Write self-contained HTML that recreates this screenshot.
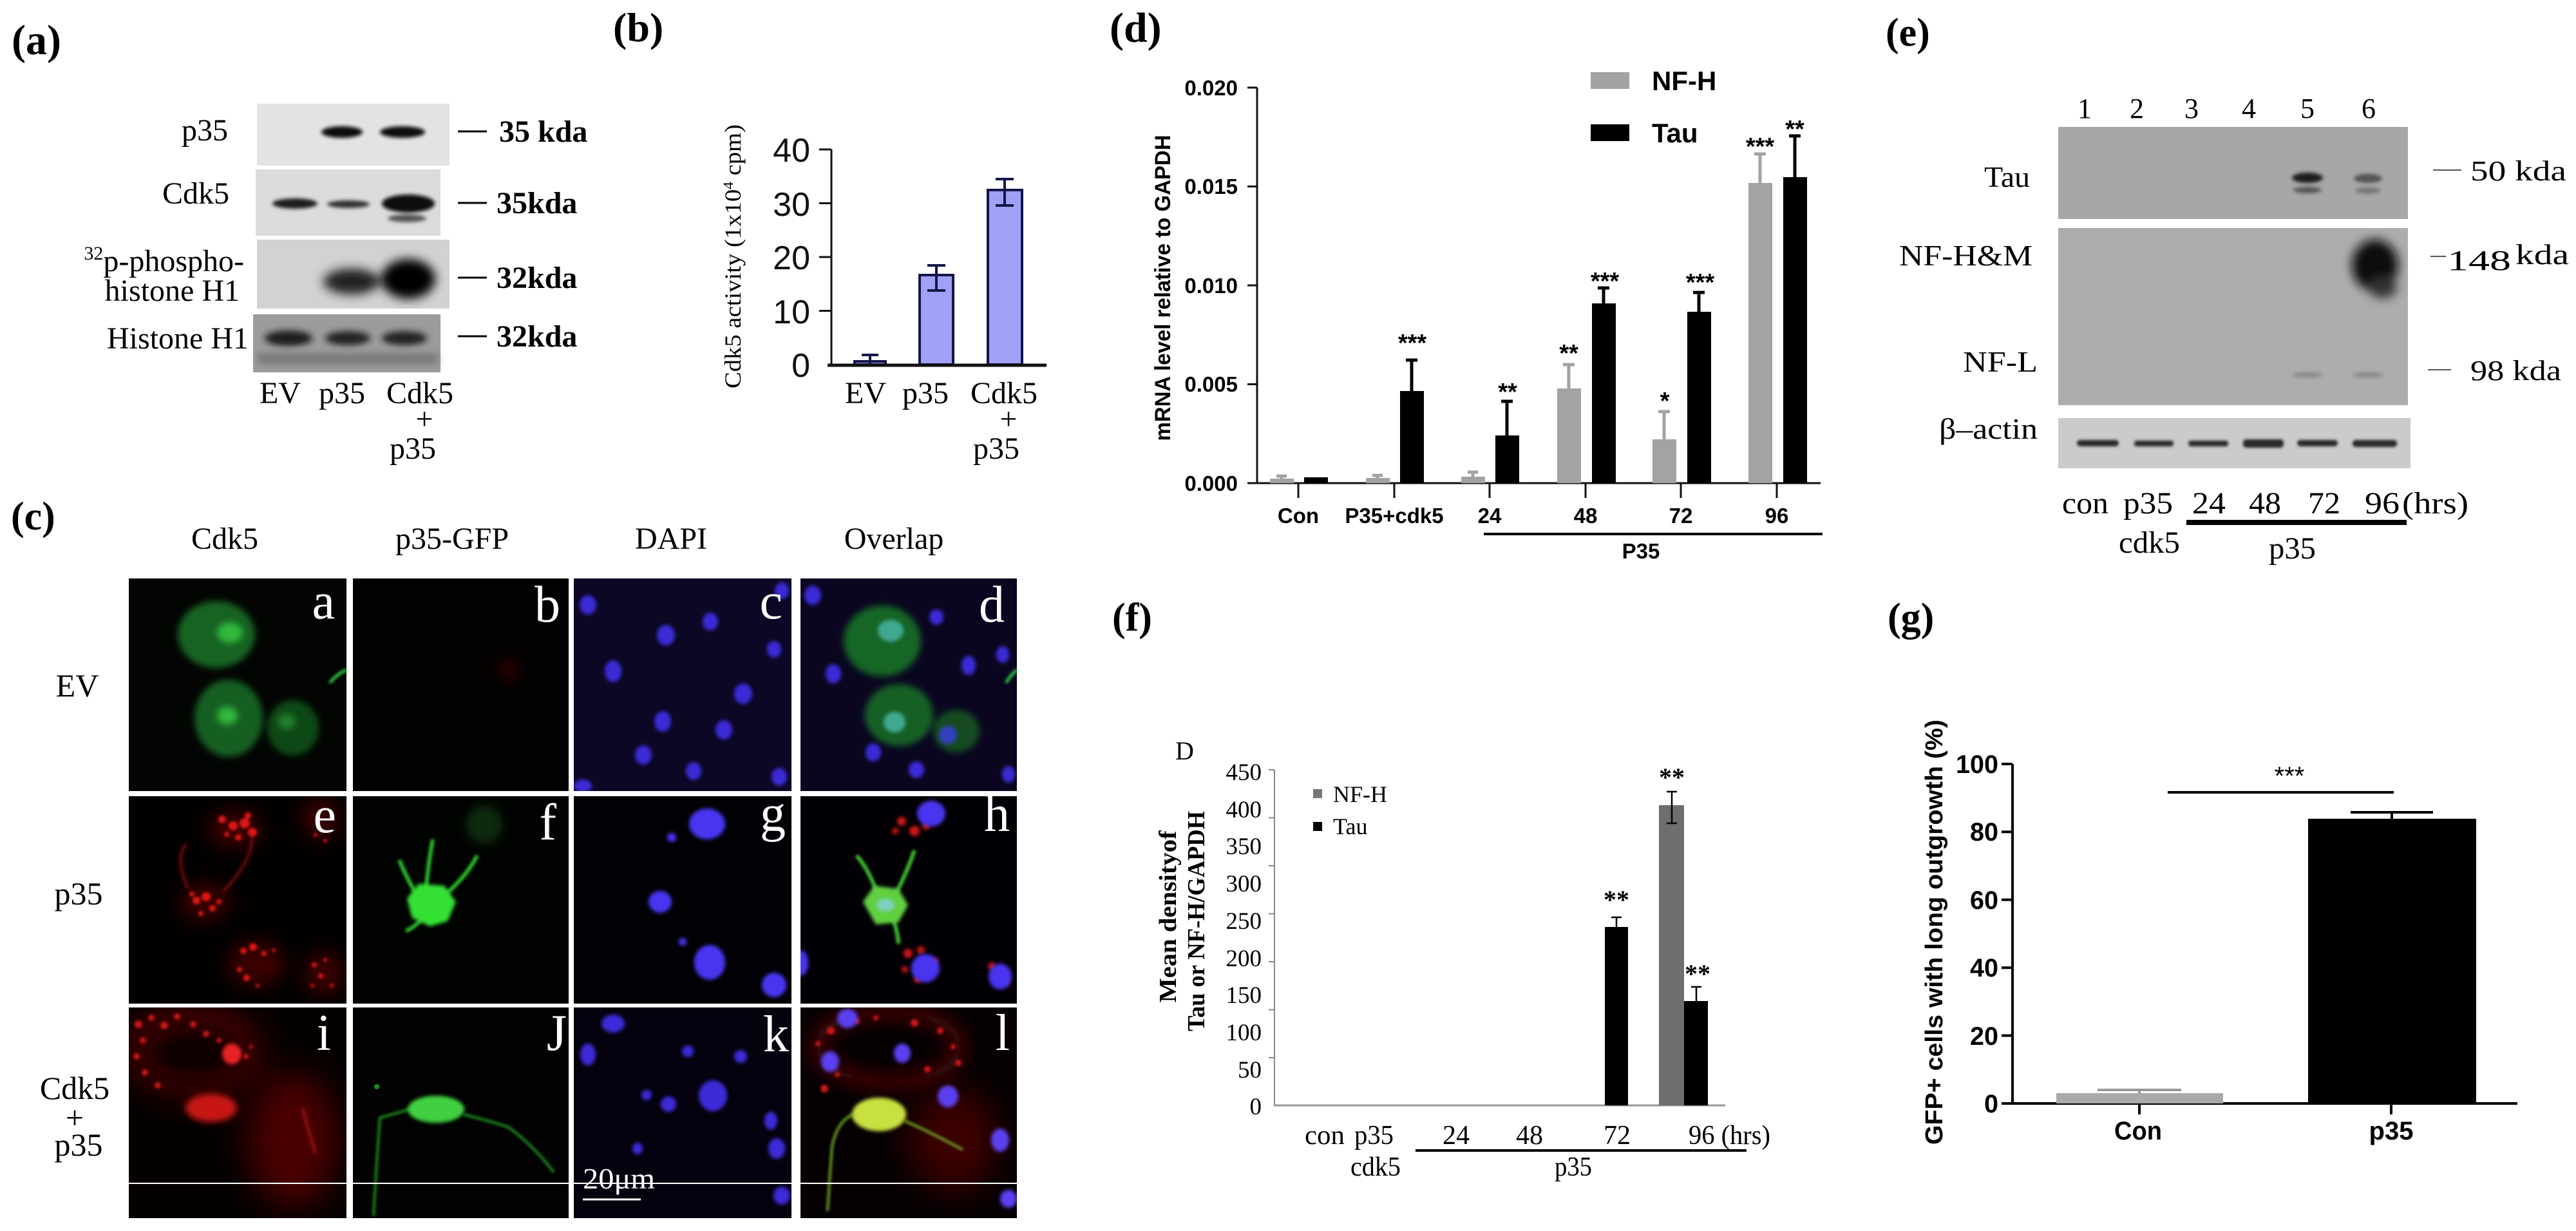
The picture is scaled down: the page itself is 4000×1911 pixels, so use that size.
<!DOCTYPE html>
<html><head><meta charset="utf-8">
<style>
html,body{margin:0;padding:0;background:#fff;}
svg{display:block;}
</style></head><body>
<svg xmlns="http://www.w3.org/2000/svg" width="4000" height="1911" viewBox="0 0 4000 1911">
<defs>
<filter id="b2" x="-50%" y="-50%" width="200%" height="200%"><feGaussianBlur stdDeviation="2"/></filter>
<filter id="b3" x="-50%" y="-50%" width="200%" height="200%"><feGaussianBlur stdDeviation="3"/></filter>
<filter id="b5" x="-50%" y="-50%" width="200%" height="200%"><feGaussianBlur stdDeviation="5"/></filter>
<filter id="b8" x="-50%" y="-50%" width="200%" height="200%"><feGaussianBlur stdDeviation="8"/></filter>
<filter id="b14" x="-50%" y="-50%" width="200%" height="200%"><feGaussianBlur stdDeviation="14"/></filter>
<filter id="b25" x="-50%" y="-50%" width="200%" height="200%"><feGaussianBlur stdDeviation="25"/></filter>
</defs>
<rect width="4000" height="1911" fill="#fff"/>

<!-- ================= PANEL (a) ================= -->
<g font-family="'Liberation Serif', serif">
<text x="18" y="84" font-size="66" font-weight="bold">(a)</text>
<rect x="399" y="161" width="299" height="96" fill="#e3e3e3"/>
<g filter="url(#b3)"><ellipse cx="531" cy="205" rx="32" ry="9" fill="#111"/><ellipse cx="625" cy="205" rx="35" ry="9" fill="#111"/></g>
<rect x="397" y="263" width="287" height="103" fill="#dcdcdc"/>
<g filter="url(#b3)"><ellipse cx="458" cy="316" rx="35" ry="8" fill="#1a1a1a"/><ellipse cx="541" cy="317" rx="33" ry="6" fill="#333"/><ellipse cx="634" cy="316" rx="41" ry="14" fill="#0a0a0a"/><ellipse cx="632" cy="339" rx="30" ry="6" fill="#555"/></g>
<rect x="399" y="372" width="299" height="107" fill="#d2d2d2"/>
<g filter="url(#b8)"><ellipse cx="546" cy="437" rx="44" ry="20" fill="#222"/><ellipse cx="634" cy="433" rx="42" ry="31" fill="#050505"/></g>
<rect x="393" y="488" width="291" height="90" fill="#9c9c9c"/>
<g filter="url(#b5)"><rect x="400" y="548" width="280" height="18" fill="#7c7c7c"/><ellipse cx="448" cy="525" rx="37" ry="12" fill="#1a1a1a"/><ellipse cx="540" cy="525" rx="35" ry="11" fill="#222"/><ellipse cx="628" cy="525" rx="35" ry="11" fill="#222"/></g>

<g font-size="48" text-anchor="end">
<text x="354" y="218">p35</text>
<text x="356" y="316">Cdk5</text>
<text x="379" y="421"><tspan font-size="30" dy="-18">32</tspan><tspan dy="18">p-phospho-</tspan></text>
<text x="372" y="467">histone H1</text>
<text x="386" y="541">Histone H1</text>
</g>
<g stroke="#000" stroke-width="3">
<line x1="711" y1="204" x2="756" y2="204"/><line x1="711" y1="315" x2="756" y2="315"/>
<line x1="711" y1="431" x2="756" y2="431"/><line x1="711" y1="522" x2="756" y2="522"/>
</g>
<g font-size="48" font-weight="bold">
<text x="775" y="220">35 kda</text>
<text x="771" y="331">35kda</text>
<text x="771" y="447">32kda</text>
<text x="771" y="538">32kda</text>
</g>
<g font-size="48" text-anchor="middle">
<text x="435" y="626">EV</text>
<text x="531" y="626">p35</text>
<text x="652" y="626">Cdk5</text>
<text x="659" y="666">+</text>
<text x="641" y="712">p35</text>
</g>
</g>

<!-- ================= PANEL (b) ================= -->
<g font-family="'Liberation Serif', serif">
<text x="952" y="64" font-size="64" font-weight="bold">(b)</text>
<text transform="translate(1150,398) rotate(-90)" font-size="36" text-anchor="middle" textLength="410" lengthAdjust="spacingAndGlyphs">Cdk5 activity (1x10<tspan font-size="22" dy="-12">4</tspan><tspan dy="12"> cpm)</tspan></text>
<g font-size="48" text-anchor="middle">
<text x="1344" y="626">EV</text>
<text x="1437" y="626">p35</text>
<text x="1559" y="626">Cdk5</text>
<text x="1566" y="666">+</text>
<text x="1547" y="712">p35</text>
</g>
</g>
<g font-family="'Liberation Sans', sans-serif" font-size="52" text-anchor="end" fill="#111">
<text x="1258" y="251">40</text><text x="1258" y="335">30</text><text x="1258" y="418">20</text><text x="1258" y="502">10</text><text x="1258" y="585">0</text>
</g>
<g stroke="#111" stroke-width="3">
<line x1="1291" y1="232" x2="1291" y2="566"/>
<line x1="1272" y1="232" x2="1291" y2="232"/><line x1="1272" y1="315.5" x2="1291" y2="315.5"/>
<line x1="1272" y1="399" x2="1291" y2="399"/><line x1="1272" y1="482.5" x2="1291" y2="482.5"/>
</g>
<g fill="#a0a0f5" stroke="#15154a" stroke-width="4">
<rect x="1327" y="561" width="48" height="5"/>
<rect x="1428" y="427" width="52" height="139"/>
<rect x="1534" y="295" width="53" height="271"/>
</g>
<line x1="1285" y1="567" x2="1625" y2="567" stroke="#111" stroke-width="5"/>
<g stroke="#15154a" stroke-width="4">
<line x1="1351" y1="551" x2="1351" y2="565"/><line x1="1338" y1="551" x2="1364" y2="551"/>
<line x1="1454" y1="412" x2="1454" y2="451"/><line x1="1440" y1="412" x2="1468" y2="412"/><line x1="1440" y1="451" x2="1468" y2="451"/>
<line x1="1560" y1="278" x2="1560" y2="319"/><line x1="1546" y1="278" x2="1574" y2="278"/><line x1="1546" y1="319" x2="1574" y2="319"/>
</g>

<!-- ================= PANEL (d) ================= -->
<text x="1723" y="65" font-family="'Liberation Serif', serif" font-size="66" font-weight="bold">(d)</text>
<g font-family="'Liberation Sans', sans-serif" font-weight="bold">
<text transform="translate(1817,447) rotate(-90)" font-size="34" text-anchor="middle" textLength="475" lengthAdjust="spacingAndGlyphs">mRNA level relative to GAPDH</text>
<g font-size="33" text-anchor="end">
<text x="1922" y="148">0.020</text><text x="1922" y="301">0.015</text><text x="1922" y="455">0.010</text><text x="1922" y="608">0.005</text><text x="1922" y="762">0.000</text>
</g>
<g font-size="33" text-anchor="middle">
<text x="2016" y="812">Con</text><text x="2165" y="812">P35+cdk5</text><text x="2313" y="812">24</text>
<text x="2462" y="812">48</text><text x="2610" y="812">72</text><text x="2759" y="812">96</text>
<text x="2548" y="867">P35</text>
</g>
<rect x="2470" y="112" width="60" height="26" fill="#a3a3a3"/>
<rect x="2470" y="193" width="60" height="26" fill="#000"/>
<text x="2565" y="140" font-size="42">NF-H</text>
<text x="2565" y="221" font-size="42">Tau</text>
<g font-size="38" text-anchor="middle">
<text x="2193" y="545">***</text>
<text x="2341" y="621">**</text>
<text x="2436" y="561">**</text>
<text x="2492" y="449">***</text>
<text x="2585" y="635">*</text>
<text x="2640" y="451">***</text>
<text x="2733" y="240">***</text>
<text x="2787" y="213">**</text>
</g>
</g>
<g stroke="#111" stroke-width="3">
<line x1="1952" y1="136" x2="1952" y2="751"/>
<line x1="1937" y1="136" x2="1952" y2="136"/><line x1="1937" y1="289.5" x2="1952" y2="289.5"/>
<line x1="1937" y1="443" x2="1952" y2="443"/><line x1="1937" y1="596.5" x2="1952" y2="596.5"/><line x1="1937" y1="750" x2="1952" y2="750"/>
<line x1="1952" y1="750" x2="2827" y2="750"/>
<line x1="2016" y1="750" x2="2016" y2="773"/><line x1="2165" y1="750" x2="2165" y2="773"/><line x1="2313" y1="750" x2="2313" y2="773"/>
<line x1="2462" y1="750" x2="2462" y2="773"/><line x1="2610" y1="750" x2="2610" y2="773"/><line x1="2759" y1="750" x2="2759" y2="773"/>
</g>
<line x1="2304" y1="829" x2="2830" y2="829" stroke="#000" stroke-width="4"/>
<g fill="#a3a3a3">
<rect x="1972" y="743" width="37" height="7"/>
<rect x="2121" y="742" width="37" height="8"/>
<rect x="2269" y="740" width="37" height="10"/>
<rect x="2418" y="603" width="37" height="147"/>
<rect x="2566" y="682" width="37" height="68"/>
<rect x="2715" y="284" width="37" height="466"/>
</g>
<g stroke="#a3a3a3" stroke-width="5">
<line x1="1990" y1="739" x2="1990" y2="743"/><line x1="1982" y1="739" x2="1998" y2="739"/>
<line x1="2139" y1="738" x2="2139" y2="742"/><line x1="2131" y1="738" x2="2147" y2="738"/>
<line x1="2287" y1="733" x2="2287" y2="740"/><line x1="2279" y1="733" x2="2295" y2="733"/>
<line x1="2436" y1="566" x2="2436" y2="603"/><line x1="2427" y1="566" x2="2445" y2="566"/>
<line x1="2584" y1="639" x2="2584" y2="682"/><line x1="2575" y1="639" x2="2593" y2="639"/>
<line x1="2733" y1="239" x2="2733" y2="284"/><line x1="2724" y1="239" x2="2742" y2="239"/>
</g>
<g fill="#000">
<rect x="2025" y="741" width="37" height="9"/>
<rect x="2174" y="607" width="37" height="143"/>
<rect x="2322" y="676" width="37" height="74"/>
<rect x="2472" y="471" width="37" height="279"/>
<rect x="2620" y="484" width="37" height="266"/>
<rect x="2769" y="275" width="37" height="475"/>
</g>
<g stroke="#000" stroke-width="5">
<line x1="2192" y1="559" x2="2192" y2="607"/><line x1="2183" y1="559" x2="2201" y2="559"/>
<line x1="2340" y1="623" x2="2340" y2="676"/><line x1="2331" y1="623" x2="2349" y2="623"/>
<line x1="2490" y1="447" x2="2490" y2="471"/><line x1="2481" y1="447" x2="2499" y2="447"/>
<line x1="2638" y1="454" x2="2638" y2="484"/><line x1="2629" y1="454" x2="2647" y2="454"/>
<line x1="2787" y1="211" x2="2787" y2="275"/><line x1="2778" y1="211" x2="2796" y2="211"/>
</g>

<!-- ================= PANEL (e) ================= -->
<g font-family="'Liberation Serif', serif">
<text x="2928" y="71" font-size="62" font-weight="bold">(e)</text>
<g font-size="44" text-anchor="middle">
<text x="3237" y="183">1</text><text x="3318" y="183">2</text><text x="3403" y="183">3</text>
<text x="3492" y="183">4</text><text x="3583" y="183">5</text><text x="3678" y="183">6</text>
</g>
<rect x="3196" y="197" width="543" height="143" fill="#a7a7a7"/>
<g filter="url(#b3)">
<ellipse cx="3583" cy="276" rx="24" ry="8" fill="#1a1a1a"/><ellipse cx="3583" cy="295" rx="22" ry="5" fill="#555"/>
<ellipse cx="3677" cy="277" rx="22" ry="7" fill="#555"/><ellipse cx="3677" cy="296" rx="20" ry="5" fill="#777"/>
</g>
<rect x="3196" y="354" width="543" height="275" fill="#adadad"/>
<g filter="url(#b8)">
<ellipse cx="3688" cy="412" rx="36" ry="40" fill="#0d0d0d"/>
<ellipse cx="3700" cy="447" rx="22" ry="16" fill="#333"/>
</g>
<g filter="url(#b3)"><ellipse cx="3583" cy="582" rx="24" ry="4" fill="#888"/><ellipse cx="3677" cy="582" rx="24" ry="4" fill="#888"/></g>
<rect x="3196" y="649" width="547" height="78" fill="#cbcbcb"/>
<g filter="url(#b2)" fill="#2a2a2a">
<rect x="3225" y="683" width="65" height="10" rx="5"/><rect x="3314" y="684" width="61" height="9" rx="4"/>
<rect x="3398" y="684" width="62" height="9" rx="4"/><rect x="3483" y="682" width="63" height="13" rx="5"/>
<rect x="3567" y="683" width="63" height="10" rx="5"/><rect x="3653" y="683" width="69" height="11" rx="5"/>
</g>
<g font-size="46" text-anchor="end">
<text x="3152" y="290" textLength="71" lengthAdjust="spacingAndGlyphs">Tau</text>
<text x="3156" y="412" textLength="207" lengthAdjust="spacingAndGlyphs">NF-H&amp;M</text>
<text x="3164" y="577" textLength="116" lengthAdjust="spacingAndGlyphs">NF-L</text>
<text x="3164" y="681" textLength="153" lengthAdjust="spacingAndGlyphs">β–actin</text>
</g>
<g stroke="#555" stroke-width="2">
<line x1="3778" y1="264" x2="3822" y2="264"/><line x1="3774" y1="398" x2="3798" y2="398"/><line x1="3770" y1="574" x2="3806" y2="574"/>
</g>
<g font-size="44">
<text x="3836" y="280" textLength="149" lengthAdjust="spacingAndGlyphs">50 kda</text>
<text x="3800" y="419" textLength="99" lengthAdjust="spacingAndGlyphs">148</text>
<text x="3906" y="410" textLength="83" lengthAdjust="spacingAndGlyphs">kda</text>
<text x="3836" y="590" textLength="141" lengthAdjust="spacingAndGlyphs">98 kda</text>
</g>
<g font-size="48">
<text x="3202" y="797" textLength="72" lengthAdjust="spacingAndGlyphs">con</text>
<text x="3297" y="797" textLength="77" lengthAdjust="spacingAndGlyphs">p35</text>
<text x="3404" y="797" textLength="52" lengthAdjust="spacingAndGlyphs">24</text>
<text x="3492" y="797" textLength="50" lengthAdjust="spacingAndGlyphs">48</text>
<text x="3584" y="797" textLength="50" lengthAdjust="spacingAndGlyphs">72</text>
<text x="3672" y="797" textLength="54" lengthAdjust="spacingAndGlyphs">96</text>
<text x="3730" y="797" textLength="103" lengthAdjust="spacingAndGlyphs">(hrs)</text>
<text x="3290" y="858" textLength="95" lengthAdjust="spacingAndGlyphs">cdk5</text>
<text x="3523" y="867" textLength="73" lengthAdjust="spacingAndGlyphs">p35</text>
</g>
<rect x="3395" y="807" width="342" height="8" fill="#000"/>
</g>

<!-- ================= PANEL (c) ================= -->
<g font-family="'Liberation Serif', serif">
<text x="17" y="822" font-size="62" font-weight="bold">(c)</text>
<g font-size="48" text-anchor="middle">
<text x="349" y="852">Cdk5</text><text x="702" y="852">p35-GFP</text><text x="1042" y="852">DAPI</text><text x="1388" y="852">Overlap</text>
</g>
<g font-size="50" text-anchor="middle">
<text x="120" y="1081">EV</text>
<text x="122" y="1404">p35</text>
<text x="116" y="1706">Cdk5</text>
<text x="116" y="1752">+</text>
<text x="122" y="1794">p35</text>
</g>
</g>

<!-- row 1 -->
<svg x="200" y="898" width="338" height="330" viewBox="200 898 338 330">
<rect x="200" y="898" width="338" height="330" fill="#030503"/>
<g filter="url(#b5)">
<ellipse cx="336" cy="985" rx="60" ry="52" fill="#156322"/>
<ellipse cx="355" cy="1115" rx="53" ry="60" fill="#145e21"/>
<ellipse cx="455" cy="1130" rx="40" ry="43" fill="#0f4a19"/>
</g>
<g filter="url(#b5)">
<ellipse cx="357" cy="982" rx="20" ry="16" fill="#30b83c"/>
<ellipse cx="353" cy="1111" rx="16" ry="14" fill="#30b83c"/>
<ellipse cx="445" cy="1120" rx="13" ry="12" fill="#22802f"/>
</g>
<path d="M512 1060 Q525 1045 538 1040" stroke="#2dbb3c" stroke-width="5" fill="none" filter="url(#b2)"/>
</svg>
<svg x="548" y="898" width="335" height="330" viewBox="548 898 335 330">
<rect x="548" y="898" width="335" height="330" fill="#040101"/>
<ellipse cx="790" cy="1040" rx="20" ry="20" fill="#1a0505" filter="url(#b8)"/>
</svg>
<svg x="891" y="898" width="338" height="330" viewBox="891 898 338 330">
<rect x="891" y="898" width="338" height="330" fill="#0b0724"/>
<g fill="#3b2bd6" filter="url(#b3)">
<ellipse cx="913" cy="939" rx="13" ry="15"/><ellipse cx="1034" cy="986" rx="14" ry="16"/><ellipse cx="952" cy="1042" rx="13" ry="17"/>
<ellipse cx="1103" cy="965" rx="12" ry="14"/><ellipse cx="1154" cy="1077" rx="14" ry="16"/><ellipse cx="1029" cy="1120" rx="13" ry="16"/>
<ellipse cx="1124" cy="1133" rx="13" ry="15"/><ellipse cx="999" cy="1172" rx="13" ry="15"/><ellipse cx="1077" cy="1197" rx="12" ry="14"/>
<ellipse cx="1210" cy="1206" rx="12" ry="14"/><ellipse cx="1202" cy="1008" rx="11" ry="13"/><ellipse cx="1214" cy="917" rx="11" ry="13"/>
<ellipse cx="905" cy="1220" rx="14" ry="10"/>
</g>
</svg>
<svg x="1243" y="898" width="336" height="330" viewBox="1243 898 336 330">
<rect x="1243" y="898" width="336" height="330" fill="#0a0620"/>
<g filter="url(#b5)">
<ellipse cx="1370" cy="995" rx="60" ry="55" fill="#186628"/>
<ellipse cx="1396" cy="1110" rx="53" ry="48" fill="#166026"/>
<ellipse cx="1485" cy="1135" rx="36" ry="33" fill="#134c20"/>
</g>
<g filter="url(#b3)">
<ellipse cx="1383" cy="979" rx="20" ry="17" fill="#40a890"/>
<ellipse cx="1389" cy="1121" rx="17" ry="16" fill="#40a890"/>
<ellipse cx="1472" cy="1141" rx="14" ry="14" fill="#3040c0"/>
<g fill="#3b2bd6">
<ellipse cx="1262" cy="924" rx="13" ry="15"/><ellipse cx="1294" cy="1046" rx="12" ry="15"/><ellipse cx="1504" cy="1033" rx="11" ry="15"/>
<ellipse cx="1356" cy="1168" rx="12" ry="14"/><ellipse cx="1423" cy="1195" rx="12" ry="13"/><ellipse cx="1557" cy="1016" rx="10" ry="13"/>
<ellipse cx="1454" cy="958" rx="11" ry="12"/><ellipse cx="1566" cy="1202" rx="10" ry="13"/>
</g>
</g>
<path d="M1562 1060 Q1572 1045 1579 1040" stroke="#2dbb3c" stroke-width="5" fill="none" filter="url(#b2)"/>
</svg>

<!-- row 2 -->
<svg x="200" y="1236" width="338" height="322" viewBox="200 1236 338 322">
<rect x="200" y="1236" width="338" height="322" fill="#030000"/>
<g filter="url(#b14)" fill="#3a0404">
<ellipse cx="365" cy="1287" rx="42" ry="28"/><ellipse cx="318" cy="1400" rx="38" ry="28"/>
<ellipse cx="398" cy="1496" rx="45" ry="34"/><ellipse cx="503" cy="1512" rx="30" ry="34"/><ellipse cx="498" cy="1270" rx="30" ry="30"/>
</g>
<path d="M292 1380 Q270 1330 290 1310 M345 1385 Q390 1340 392 1300" stroke="#6a0808" stroke-width="5" fill="none" filter="url(#b3)"/>
<g fill="#e01818" filter="url(#b2)">
<circle cx="345" cy="1272" r="6"/><circle cx="362" cy="1282" r="7"/><circle cx="380" cy="1278" r="8"/><circle cx="392" cy="1292" r="7"/><circle cx="370" cy="1300" r="5"/><circle cx="352" cy="1295" r="4"/><circle cx="385" cy="1266" r="5"/>
<circle cx="305" cy="1398" r="6"/><circle cx="320" cy="1392" r="7"/><circle cx="330" cy="1410" r="5"/><circle cx="312" cy="1418" r="4"/><circle cx="298" cy="1388" r="4"/><circle cx="340" cy="1400" r="4"/>
<circle cx="378" cy="1476" r="5"/><circle cx="393" cy="1470" r="6"/><circle cx="410" cy="1480" r="4"/><circle cx="372" cy="1505" r="4"/><circle cx="383" cy="1518" r="5"/><circle cx="425" cy="1475" r="3"/><circle cx="400" cy="1530" r="3"/>
<circle cx="488" cy="1498" r="4"/><circle cx="505" cy="1490" r="3"/><circle cx="498" cy="1515" r="4"/><circle cx="515" cy="1530" r="3"/><circle cx="485" cy="1530" r="3"/>
<circle cx="490" cy="1296" r="3"/><circle cx="505" cy="1305" r="3"/>
</g>
</svg>
<svg x="548" y="1236" width="335" height="322" viewBox="548 1236 335 322">
<rect x="548" y="1236" width="335" height="322" fill="#010301"/>
<ellipse cx="752" cy="1280" rx="28" ry="30" fill="#0b2a0b" filter="url(#b8)"/>
<g stroke="#2cc02c" stroke-width="6" fill="none" filter="url(#b2)">
<path d="M660 1395 Q665 1340 672 1303"/><path d="M650 1395 Q630 1360 620 1335"/><path d="M690 1390 Q725 1360 741 1328"/><path d="M660 1420 Q645 1440 630 1445"/>
</g>
<path d="M632 1395 L650 1372 L690 1375 L708 1400 L695 1430 L668 1438 L640 1425 Z" fill="#35e035" filter="url(#b3)"/>
</svg>
<svg x="891" y="1236" width="338" height="322" viewBox="891 1236 338 322">
<rect x="891" y="1236" width="338" height="322" fill="#020106"/>
<g fill="#4a36f0" filter="url(#b3)">
<ellipse cx="1098" cy="1279" rx="28" ry="24"/><ellipse cx="1043" cy="1300" rx="7" ry="7"/><ellipse cx="1025" cy="1400" rx="18" ry="17"/>
<ellipse cx="1102" cy="1494" rx="24" ry="27"/><ellipse cx="1202" cy="1529" rx="19" ry="19"/><ellipse cx="1060" cy="1462" rx="6" ry="6"/>
</g>
</svg>
<svg x="1243" y="1236" width="336" height="322" viewBox="1243 1236 336 322">
<rect x="1243" y="1236" width="336" height="322" fill="#020004"/>
<g fill="#d01414" filter="url(#b3)">
<circle cx="1400" cy="1275" r="7"/><circle cx="1420" cy="1290" r="8"/><circle cx="1438" cy="1282" r="6"/><circle cx="1390" cy="1290" r="5"/>
<circle cx="1410" cy="1480" r="7"/><circle cx="1430" cy="1475" r="6"/><circle cx="1425" cy="1520" r="6"/><circle cx="1452" cy="1492" r="5"/><circle cx="1405" cy="1505" r="5"/>
<circle cx="1540" cy="1500" r="6"/><circle cx="1562" cy="1525" r="5"/>
</g>
<g fill="#4a36f0" filter="url(#b3)">
<ellipse cx="1446" cy="1263" rx="22" ry="20"/><ellipse cx="1437" cy="1503" rx="22" ry="22"/><ellipse cx="1553" cy="1516" rx="18" ry="20"/><ellipse cx="1243" cy="1495" rx="12" ry="20"/>
</g>
<g stroke="#40c030" stroke-width="6" fill="none" filter="url(#b2)">
<path d="M1365 1395 Q1350 1350 1330 1328"/><path d="M1390 1390 Q1410 1350 1420 1320"/><path d="M1385 1420 Q1395 1450 1395 1465"/>
</g>
<path d="M1340 1400 L1358 1375 L1395 1380 L1410 1405 L1395 1432 L1360 1435 Z" fill="#60d040" filter="url(#b3)"/>
<ellipse cx="1375" cy="1405" rx="14" ry="10" fill="#80d0c0" filter="url(#b3)"/>
</svg>

<!-- row 3 -->
<svg x="200" y="1564" width="338" height="327" viewBox="200 1564 338 327">
<rect x="200" y="1564" width="338" height="327" fill="#050000"/>
<g filter="url(#b25)" fill="#4a0606">
<ellipse cx="300" cy="1630" rx="105" ry="70"/><ellipse cx="455" cy="1770" rx="70" ry="105"/>
</g>
<ellipse cx="300" cy="1635" rx="70" ry="40" fill="#0a0000" filter="url(#b14)"/>
<g fill="#c81818" filter="url(#b2)">
<circle cx="215" cy="1590" r="6"/><circle cx="235" cy="1580" r="5"/><circle cx="255" cy="1592" r="6"/><circle cx="275" cy="1578" r="5"/><circle cx="300" cy="1590" r="5"/>
<circle cx="222" cy="1615" r="5"/><circle cx="212" cy="1640" r="5"/><circle cx="225" cy="1665" r="5"/><circle cx="245" cy="1685" r="5"/>
<circle cx="320" cy="1605" r="5"/><circle cx="340" cy="1615" r="4"/><circle cx="382" cy="1640" r="4"/><circle cx="390" cy="1625" r="3"/>
</g>
<ellipse cx="360" cy="1636" rx="15" ry="16" fill="#e82020" filter="url(#b3)"/>
<ellipse cx="328" cy="1720" rx="40" ry="22" fill="#c81818" filter="url(#b5)"/>
<path d="M470 1720 Q480 1760 490 1790" stroke="#8a1010" stroke-width="6" fill="none" filter="url(#b3)"/>
</svg>
<svg x="548" y="1564" width="335" height="327" viewBox="548 1564 335 327">
<rect x="548" y="1564" width="335" height="327" fill="#010201"/>
<g stroke="#1e8a1e" stroke-width="4" fill="none" filter="url(#b2)">
<path d="M636 1722 Q610 1730 590 1735 Q585 1800 580 1888"/><path d="M720 1730 Q760 1740 790 1750 Q830 1780 860 1820"/>
</g>
<ellipse cx="677" cy="1722" rx="44" ry="21" fill="#40d040" filter="url(#b3)"/>
<circle cx="585" cy="1687" r="4" fill="#1e8a1e"/>
</svg>
<svg x="891" y="1564" width="338" height="327" viewBox="891 1564 338 327">
<rect x="891" y="1564" width="338" height="327" fill="#04020e"/>
<g fill="#3c2cd8" filter="url(#b3)">
<ellipse cx="952" cy="1589" rx="18" ry="14"/><ellipse cx="913" cy="1637" rx="12" ry="17"/><ellipse cx="1107" cy="1701" rx="22" ry="24"/>
<ellipse cx="1038" cy="1714" rx="12" ry="12"/><ellipse cx="1004" cy="1700" rx="8" ry="8"/><ellipse cx="1068" cy="1632" rx="9" ry="9"/>
<ellipse cx="1197" cy="1740" rx="10" ry="14"/><ellipse cx="1206" cy="1783" rx="13" ry="16"/><ellipse cx="1214" cy="1856" rx="13" ry="14"/>
<ellipse cx="990" cy="1783" rx="8" ry="9"/><ellipse cx="1150" cy="1640" rx="10" ry="10"/>
</g>
</svg>
<svg x="1243" y="1564" width="336" height="327" viewBox="1243 1564 336 327">
<rect x="1243" y="1564" width="336" height="327" fill="#050002"/>
<ellipse cx="1380" cy="1625" rx="110" ry="55" fill="none" stroke="#5a0a0a" stroke-width="18" filter="url(#b14)"/>
<ellipse cx="1480" cy="1770" rx="70" ry="80" fill="#3a0606" filter="url(#b25)"/>
<g fill="#d01818" filter="url(#b2)">
<circle cx="1290" cy="1600" r="6"/><circle cx="1330" cy="1585" r="5"/><circle cx="1420" cy="1588" r="6"/><circle cx="1460" cy="1600" r="5"/>
<circle cx="1280" cy="1690" r="6"/><circle cx="1440" cy="1660" r="5"/><circle cx="1488" cy="1650" r="5"/>
<circle cx="1360" cy="1580" r="4"/><circle cx="1480" cy="1625" r="4"/><circle cx="1300" cy="1668" r="4"/><circle cx="1270" cy="1620" r="4"/>
</g>
<g fill="#5a40f0" filter="url(#b3)">
<ellipse cx="1316" cy="1581" rx="16" ry="15"/><ellipse cx="1401" cy="1635" rx="13" ry="15"/><ellipse cx="1289" cy="1648" rx="14" ry="16"/>
<ellipse cx="1472" cy="1702" rx="16" ry="17"/><ellipse cx="1553" cy="1770" rx="14" ry="18"/><ellipse cx="1566" cy="1861" rx="13" ry="14"/>
</g>
<g stroke="#6aa020" stroke-width="4" fill="none" filter="url(#b2)">
<path d="M1325 1730 Q1300 1740 1292 1780 Q1288 1830 1285 1880"/><path d="M1405 1740 Q1450 1760 1495 1785"/>
</g>
<ellipse cx="1365" cy="1730" rx="42" ry="26" fill="#c8e040" filter="url(#b3)"/>
</svg>

<!-- panel letters -->
<g font-family="'Liberation Serif', serif" font-size="80" fill="#fff" text-anchor="end">
<text x="520" y="960">a</text><text x="870" y="965">b</text><text x="1215" y="960">c</text><text x="1560" y="965">d</text>
<text x="522" y="1292">e</text><text x="864" y="1303">f</text><text x="1220" y="1290">g</text><text x="1568" y="1290">h</text>
<text x="514" y="1630">i</text><text x="880" y="1630">J</text><text x="1225" y="1632">k</text><text x="1568" y="1630">l</text>
</g>
<line x1="200" y1="1837" x2="1579" y2="1837" stroke="#fff" stroke-width="2"/>
<text x="905" y="1845" font-family="'Liberation Serif', serif" font-size="46" fill="#fff" textLength="112" lengthAdjust="spacingAndGlyphs">20μm</text>
<line x1="905" y1="1862" x2="995" y2="1862" stroke="#fff" stroke-width="3"/>

<!-- ================= PANEL (f) ================= -->
<g font-family="'Liberation Serif', serif">
<text x="1727" y="979" font-size="62" font-weight="bold">(f)</text>
<text x="1825" y="1179" font-size="40">D</text>
<text transform="translate(1826,1423) rotate(-90)" font-size="38" font-weight="bold" text-anchor="middle" textLength="267" lengthAdjust="spacingAndGlyphs">Mean densityof</text>
<text transform="translate(1870,1430) rotate(-90)" font-size="38" font-weight="bold" text-anchor="middle" textLength="342" lengthAdjust="spacingAndGlyphs">Tau or NF-H/GAPDH</text>
<g font-size="37" text-anchor="end">
<text x="1959" y="1211">450</text><text x="1959" y="1269">400</text><text x="1959" y="1326">350</text><text x="1959" y="1384">300</text>
<text x="1959" y="1442">250</text><text x="1959" y="1500">200</text><text x="1959" y="1557">150</text><text x="1959" y="1615">100</text>
<text x="1959" y="1673">50</text><text x="1959" y="1730">0</text>
</g>
<rect x="2039" y="1225" width="14" height="14" fill="#777"/>
<rect x="2039" y="1276" width="14" height="14" fill="#000"/>
<text x="2070" y="1245" font-size="36">NF-H</text>
<text x="2070" y="1295" font-size="36">Tau</text>
<g font-size="42">
<text x="2026" y="1776" textLength="62" lengthAdjust="spacingAndGlyphs">con</text>
<text x="2103" y="1776" textLength="61" lengthAdjust="spacingAndGlyphs">p35</text>
<text x="2240" y="1776">24</text><text x="2354" y="1776">48</text><text x="2490" y="1776">72</text>
<text x="2622" y="1776" textLength="127" lengthAdjust="spacingAndGlyphs">96 (hrs)</text>
<text x="2097" y="1825" textLength="78" lengthAdjust="spacingAndGlyphs">cdk5</text>
<text x="2414" y="1825" textLength="58" lengthAdjust="spacingAndGlyphs">p35</text>
</g>
<g font-size="40" font-weight="bold" text-anchor="middle">
<text x="2510" y="1410">**</text><text x="2596" y="1220">**</text><text x="2636" y="1525">**</text>
</g>
</g>
<g stroke="#888" stroke-width="2">
<line x1="1979" y1="1195" x2="1979" y2="1717"/>
<line x1="1970" y1="1195" x2="1979" y2="1195"/><line x1="1970" y1="1269.5" x2="1979" y2="1269.5"/><line x1="1970" y1="1344" x2="1979" y2="1344"/>
<line x1="1970" y1="1418.5" x2="1979" y2="1418.5"/><line x1="1970" y1="1493" x2="1979" y2="1493"/><line x1="1970" y1="1567.5" x2="1979" y2="1567.5"/>
<line x1="1970" y1="1642" x2="1979" y2="1642"/>
</g>
<line x1="1979" y1="1716" x2="2679" y2="1716" stroke="#999" stroke-width="3"/>
<rect x="2492" y="1439" width="36" height="277" fill="#000"/>
<rect x="2576" y="1250" width="39" height="466" fill="#6e6e6e"/>
<rect x="2615" y="1554" width="37" height="162" fill="#000"/>
<g stroke="#000" stroke-width="2.5">
<line x1="2510" y1="1424" x2="2510" y2="1450"/><line x1="2502" y1="1424" x2="2518" y2="1424"/>
<line x1="2596" y1="1229" x2="2596" y2="1278"/><line x1="2588" y1="1229" x2="2604" y2="1229"/><line x1="2588" y1="1278" x2="2604" y2="1278"/>
<line x1="2634" y1="1532" x2="2634" y2="1570"/><line x1="2626" y1="1532" x2="2642" y2="1532"/>
</g>
<line x1="2198" y1="1786" x2="2712" y2="1786" stroke="#000" stroke-width="4"/>

<!-- ================= PANEL (g) ================= -->
<text x="2931" y="979" font-family="'Liberation Serif', serif" font-size="62" font-weight="bold">(g)</text>
<g font-family="'Liberation Sans', sans-serif" font-weight="bold">
<text transform="translate(3016,1447) rotate(-90)" font-size="38" text-anchor="middle" textLength="660" lengthAdjust="spacingAndGlyphs">GFP+ cells with long  outgrowth (%)</text>
<g font-size="40" text-anchor="end">
<text x="3103" y="1200" textLength="66" lengthAdjust="spacingAndGlyphs">100</text>
<text x="3103" y="1305" textLength="44" lengthAdjust="spacingAndGlyphs">80</text>
<text x="3103" y="1411" textLength="44" lengthAdjust="spacingAndGlyphs">60</text>
<text x="3103" y="1516" textLength="44" lengthAdjust="spacingAndGlyphs">40</text>
<text x="3103" y="1622" textLength="44" lengthAdjust="spacingAndGlyphs">20</text>
<text x="3103" y="1727" textLength="22" lengthAdjust="spacingAndGlyphs">0</text>
</g>
<g font-size="40" text-anchor="middle">
<text x="3320" y="1769" textLength="74" lengthAdjust="spacingAndGlyphs">Con</text>
<text x="3713" y="1769" textLength="69" lengthAdjust="spacingAndGlyphs">p35</text>
</g>
</g>
<text x="3555" y="1218" font-family="'Liberation Sans', sans-serif" font-size="40" text-anchor="middle">***</text>
<g stroke="#000" stroke-width="4">
<line x1="3125" y1="1186" x2="3125" y2="1713"/>
<line x1="3108" y1="1186" x2="3125" y2="1186"/><line x1="3108" y1="1291.4" x2="3125" y2="1291.4"/><line x1="3108" y1="1396.8" x2="3125" y2="1396.8"/>
<line x1="3108" y1="1502.2" x2="3125" y2="1502.2"/><line x1="3108" y1="1607.6" x2="3125" y2="1607.6"/><line x1="3108" y1="1713" x2="3125" y2="1713"/>
<line x1="3109" y1="1713" x2="3909" y2="1713"/>
<line x1="3322" y1="1713" x2="3322" y2="1730"/><line x1="3713" y1="1713" x2="3713" y2="1730"/>
<line x1="3366" y1="1230" x2="3717" y2="1230"/>
</g>
<rect x="3193" y="1697" width="259" height="16" fill="#aaaaaa"/>
<g stroke="#999" stroke-width="4"><line x1="3322" y1="1692" x2="3322" y2="1697"/><line x1="3257" y1="1692" x2="3387" y2="1692"/></g>
<rect x="3584" y="1271" width="261" height="442" fill="#000"/>
<g stroke="#000" stroke-width="4"><line x1="3714" y1="1261" x2="3714" y2="1271"/><line x1="3650" y1="1261" x2="3778" y2="1261"/></g>
</svg>
</body></html>
